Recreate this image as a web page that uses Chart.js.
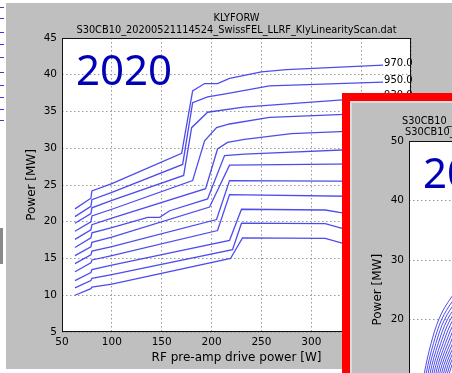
<!DOCTYPE html>
<html><head><meta charset="utf-8">
<script src="https://cdn.jsdelivr.net/npm/chart.js@4.4.1/dist/chart.umd.min.js"></script>
<style>
html,body{margin:0;padding:0;background:#fff;}
body{width:452px;height:373px;overflow:hidden;position:relative;}
#fig{position:absolute;left:6px;top:3px;width:446px;height:366px;background:#bfbfbf;}
#main{position:absolute;left:0;top:0;}
#inset{position:absolute;left:342px;top:93px;width:342px;height:400px;border:8px solid #ff0000;background:#bfbfbf;}
#insetInner{position:absolute;left:0;top:0;width:340px;height:398px;border-left:2px solid #dcdcdc;border-top:2px solid #dcdcdc;}
#insetCanvas{position:absolute;left:2px;top:2px;}
.dash{position:absolute;left:0;width:4px;height:1px;background:#3a3ae0;}
#gbar{position:absolute;left:0;top:228px;width:3px;height:36px;background:#8a8a8a;}
</style></head>
<body>
<div class="dash" style="top:7px"></div><div class="dash" style="top:18px"></div>
<div class="dash" style="top:32px"></div><div class="dash" style="top:44px"></div>
<div class="dash" style="top:57px"></div><div class="dash" style="top:72px"></div>
<div class="dash" style="top:85px"></div><div class="dash" style="top:97px"></div>
<div class="dash" style="top:109px"></div><div class="dash" style="top:120px"></div>
<div id="gbar"></div>
<div id="fig"></div>
<canvas id="main" width="452" height="373"></canvas>
<div id="inset"><div id="insetInner"></div><canvas id="insetCanvas" width="340" height="380"></canvas></div>
<script>
// ---------- main chart data (RF pre-amp drive power [W] vs Power [MW]) ----------
const setpoints = [970, 950, 930, 910, 890, 870, 850, 830, 810, 790, 770, 750];
const drive970 = [63, 79, 80, 100, 170, 181, 193, 206, 218, 250, 275, 372];
const power970 = [21.75, 23.2, 24.2, 25.2, 29.3, 37.8, 38.8, 38.8, 39.5, 40.4, 40.7, 41.3];
const drive950 = [63, 79, 80, 100, 171, 181, 196, 214, 258, 372];
const power950 = [20.7, 22.1, 23.0, 24.0, 27.8, 36.2, 37.0, 37.4, 38.5, 39.0];
const drive930 = [63, 79, 80, 100, 172, 180, 196, 232, 372];
const power930 = [19.8, 21.1, 21.9, 22.9, 26.3, 32.8, 34.9, 35.6, 37.0];
const drive910 = [63, 79, 80, 100, 181, 193, 205, 218, 258, 372];
const power910 = [18.7, 20.0, 20.8, 21.7, 25.6, 31.0, 32.8, 33.3, 34.2, 34.8];
const drive890 = [63, 79, 80, 100, 194, 206, 216, 233, 280, 372];
const power890 = [17.6, 18.9, 19.6, 20.5, 24.5, 29.9, 30.8, 31.2, 32.0, 32.5];
const drive870 = [63, 79, 80, 100, 136, 148, 158, 196, 213, 233, 372];
const power870 = [16.5, 17.8, 18.5, 19.2, 20.6, 20.6, 21.5, 23.1, 29.0, 29.2, 30.0];
const drive850 = [63, 79, 80, 100, 198, 218, 372];
const power850 = [15.4, 16.6, 17.2, 17.9, 22.0, 27.7, 27.9];
const drive830 = [63, 79, 80, 100, 205, 218, 372];
const power830 = [14.3, 15.5, 16.0, 16.6, 20.3, 25.6, 25.5];
const drive810 = [63, 79, 80, 100, 206, 218, 372];
const power810 = [13.2, 14.4, 14.8, 15.4, 18.8, 23.7, 23.4];
const drive790 = [63, 79, 80, 100, 218, 230, 314, 331, 372];
const power790 = [12.0, 13.1, 13.5, 14.1, 17.45, 21.7, 21.6, 21.2, 20.8];
const drive770 = [63, 79, 80, 100, 221, 230, 314, 331, 372];
const power770 = [11.0, 12.0, 12.3, 12.8, 16.2, 19.8, 19.75, 19.1, 18.5];
const drive750 = [63, 79, 80, 100, 219, 231, 314, 331, 372];
const power750 = [10.0, 10.9, 11.1, 11.5, 15.0, 17.8, 17.75, 17.1, 16.4];
const xTicks = [50, 100, 150, 200, 250, 300, 350, 400];
const yTicks = [5, 10, 15, 20, 25, 30, 35, 40, 45];
const mainTitle = ['KLYFORW', 'S30CB10_20200521114524_SwissFEL_LLRF_KlyLinearityScan.dat'];
const yearLabel = '2020';

// ---------- inset chart data ----------
const insetPowerLevels = [0, 11, 16, 20, 23, 26, 30];
const scan01 = [5, 16, 23, 31, 41, 56, 90];
const scan02 = [7, 18, 25.5, 34, 45, 61, 97];
const scan03 = [9, 20, 28, 37, 49, 66, 104];
const scan04 = [11, 22, 30.5, 40, 53, 71, 111];
const scan05 = [13, 24, 33, 43, 57, 76, 118];
const scan06 = [15, 26, 35.5, 46, 61, 81, 125];
const scan07 = [17, 28, 38, 49, 65, 86, 132];
const scan08 = [19, 30, 40.5, 52, 69, 91, 139];
const scan09 = [21, 32, 43, 55, 73, 96, 146];
const scan10 = [23, 34, 45.5, 58, 77, 101, 153];
const scan11 = [25, 36, 48, 61, 81, 106, 160];
const scan12 = [27, 38, 50.5, 64, 85, 111, 167];
const scan13 = [29, 40, 53, 67, 89, 116, 174];
const scan14 = [31, 42, 55.5, 70, 93, 121, 181];
const insetTitle = ['S30CB10_KLYFORW', 'S30CB10_SwissFEL_LLRF_KlyLinearityScan.dat'];
const insetYear = '2021';

const drives = [drive970, drive950, drive930, drive910, drive890, drive870, drive850, drive830, drive810, drive790, drive770, drive750];
const powers = [power970, power950, power930, power910, power890, power870, power850, power830, power810, power790, power770, power750];
const scans = [scan01, scan02, scan03, scan04, scan05, scan06, scan07, scan08, scan09, scan10, scan11, scan12, scan13, scan14];

const FONT = 'DejaVu Sans';
const LINE = 'rgba(45,45,235,0.85)';

function framePlugin(yearText, yearFont) {
  return {
    id: 'frame',
    beforeDraw(chart) {
      const a = chart.chartArea, c = chart.ctx;
      c.save(); c.fillStyle = '#ffffff'; c.fillRect(a.left, a.top, a.right - a.left, a.bottom - a.top); c.restore();
    },
    afterDatasetsDraw(chart) {
      const a = chart.chartArea, c = chart.ctx;
      c.save();
      c.fillStyle = '#0000b4';
      c.font = yearFont;
      c.textBaseline = 'alphabetic';
      c.fillText(yearText, a.left + 14, a.top + 47);
      c.restore();
    },
    afterDraw(chart) {
      const a = chart.chartArea, c = chart.ctx;
      c.save(); c.strokeStyle = '#111'; c.lineWidth = 1;
      c.strokeRect(Math.round(a.left) + 0.5, Math.round(a.top) + 0.5, Math.round(a.right - a.left) - 1, Math.round(a.bottom - a.top) - 1);
      c.restore();
    }
  };
}

// two-line title centred over the plot area (as matplotlib does)
const centeredTitle = {
  id: 'centeredTitle',
  afterDraw(chart) {
    const a = chart.chartArea, c = chart.ctx;
    c.save(); c.font = '9.8px ' + FONT; c.fillStyle = '#000'; c.textAlign = 'center'; c.textBaseline = 'middle';
    const cx = (a.left + a.right) / 2;
    c.fillText(mainTitle[0], cx, 18);
    c.fillText(mainTitle[1], cx, 30);
    c.restore();
  }
};

const endLabels = {
  id: 'endLabels',
  afterDatasetsDraw(chart) {
    const c = chart.ctx, xs = chart.scales.x, ys = chart.scales.y;
    c.save();
    c.font = '10px ' + FONT; c.fillStyle = '#000'; c.textBaseline = 'alphabetic';
    chart.data.datasets.forEach(ds => {
      const p = ds.data[ds.data.length - 1];
      c.fillText(ds.label, xs.getPixelForValue(p.x) + 1, ys.getPixelForValue(p.y) + 1);
    });
    c.restore();
  }
};

function axisCommon(min, max, step, fit) {
  return {
    type: 'linear', min, max,
    ticks: { stepSize: step, color: '#000', font: { family: FONT, size: 10.5 }, maxRotation: 0, autoSkip: false },
    grid: { color: '#999999', lineWidth: 1, drawTicks: false },
    border: { display: false, dash: [1.5, 2.5] },
    afterFit: fit
  };
}

const mainX = axisCommon(xTicks[0], xTicks[xTicks.length - 1], 50, s => { s.height = 41; });
mainX.ticks.padding = 4;
mainX.title = { display: true, text: 'RF pre-amp drive power [W]', color: '#000', font: { family: FONT, size: 12 }, padding: { top: 0, bottom: 7.8 } };
const mainY = axisCommon(yTicks[0], yTicks[yTicks.length - 1], 5, s => { s.width = 56; });
mainY.ticks.padding = 5;
mainY.title = { display: true, text: 'Power [MW]', color: '#000', font: { family: FONT, size: 12 }, padding: { top: 18.8, bottom: 0 } };

new Chart(document.getElementById('main'), {
  type: 'line',
  data: {
    datasets: setpoints.map((sp, i) => ({
      label: sp.toFixed(1),
      data: drives[i].map((x, j) => ({ x, y: powers[i][j] })),
      borderColor: LINE, borderWidth: 1.3, pointRadius: 0, tension: 0, fill: false
    }))
  },
  options: {
    responsive: false, animation: false, parsing: true,
    layout: { padding: { left: 6, right: 41, top: 38, bottom: 0 } },
    plugins: { legend: { display: false }, tooltip: { enabled: false }, title: { display: false } },
    scales: { x: mainX, y: mainY }
  },
  plugins: [framePlugin(yearLabel, '42px "Noto Sans"'), endLabels, centeredTitle]
});

// ---------- inset ----------
const insetX = axisCommon(0, 280, 50, s => { s.height = 44.5; });
insetX.ticks.padding = 4;
insetX.title = { display: true, text: 'RF pre-amp drive power [W]', color: '#000', font: { family: FONT, size: 12 }, padding: { top: 0, bottom: 7.8 } };
const insetY = axisCommon(0, 50, 10, s => { s.width = 57; });
insetY.ticks.padding = 5;
insetY.title = { display: true, text: 'Power [MW]', color: '#000', font: { family: FONT, size: 12 }, padding: { top: 18.8, bottom: 0 } };

const insetTitles = {
  id: 'insetTitles',
  afterDraw(chart) {
    const c = chart.ctx, a = chart.chartArea;
    c.save(); c.font = '9.8px ' + FONT; c.fillStyle = '#000'; c.textBaseline = 'middle';
    c.fillText(insetTitle[0], a.left - 7, 18);
    c.fillText(insetTitle[1], a.left - 4, 29);
    c.restore();
  }
};

new Chart(document.getElementById('insetCanvas'), {
  type: 'line',
  data: {
    datasets: scans.map(s => ({
      data: s.map((x, j) => ({ x, y: insetPowerLevels[j] })),
      borderColor: LINE, borderWidth: 1, pointRadius: 0, tension: 0.35, fill: false
    }))
  },
  options: {
    responsive: false, animation: false,
    layout: { padding: { left: 0, right: 3, top: 38, bottom: 0 } },
    plugins: { legend: { display: false }, tooltip: { enabled: false }, title: { display: false } },
    scales: { x: insetX, y: insetY }
  },
  plugins: [framePlugin(insetYear, '42px "Noto Sans"'), insetTitles]
});
</script>
</body></html>
